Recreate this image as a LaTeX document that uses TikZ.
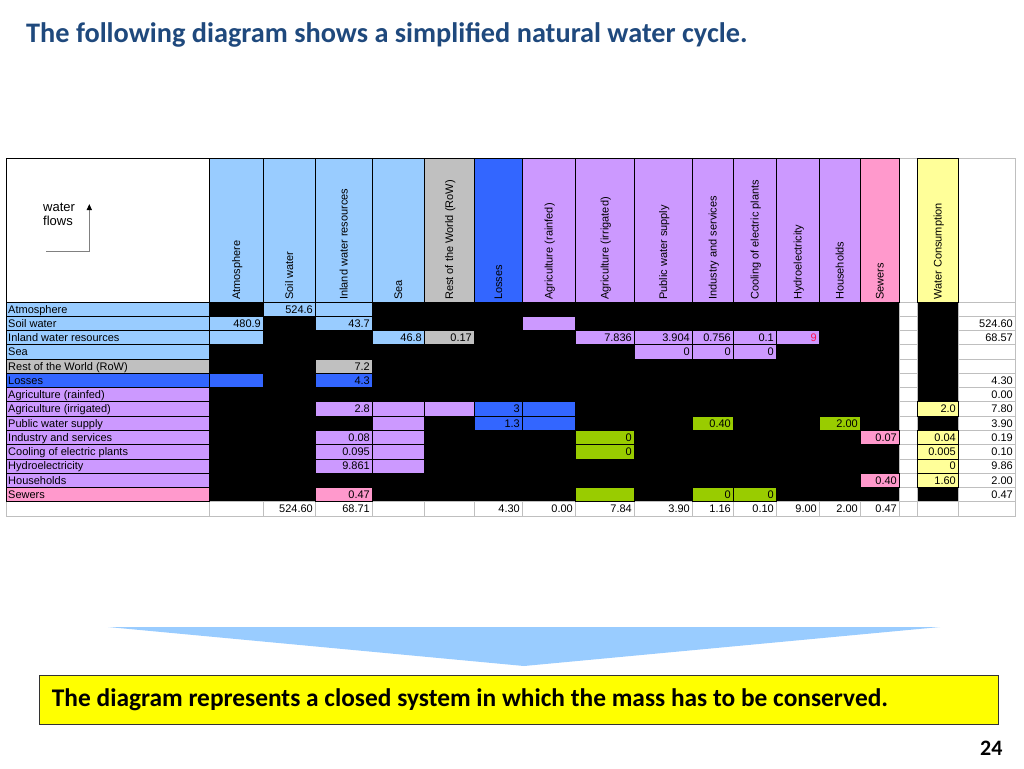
\documentclass[tikz,border=0pt]{standalone}
\usepackage{fontspec}
\setmainfont{Liberation Sans}
\newfontfamily\calibri{Carlito}
\usetikzlibrary{arrows.meta}
\definecolor{lb}{HTML}{99CCFF}
\definecolor{gr}{HTML}{C0C0C0}
\definecolor{bl}{HTML}{3366FF}
\definecolor{pu}{HTML}{CC99FF}
\definecolor{pk}{HTML}{FF99CC}
\definecolor{gn}{HTML}{99CC00}
\definecolor{ye}{HTML}{FFFF99}
\definecolor{gridgrey}{HTML}{BFBFBF}
\definecolor{titleblue}{HTML}{1F497D}
\definecolor{redtxt}{HTML}{FF1050}
\definecolor{arrowblue}{HTML}{99CCFF}
\definecolor{boxyellow}{HTML}{FFFF00}
\def\XS{{209,263,315,372,424,474,522,575,634,692,733,776,819,860,899,917,958,1015}}
\begin{document}
\begin{tikzpicture}[x=1pt,y=-1pt,
  num/.style={font=\fontsize{11}{12}\selectfont, inner sep=0pt, anchor=base east},
  lab/.style={font=\fontsize{11}{12}\selectfont, inner sep=0pt, anchor=base west},
  hd/.style={font=\fontsize{11}{12}\selectfont, inner sep=0pt, anchor=base west, rotate=90},
  cellb/.style={draw=black, line width=0.8pt},
  cellg/.style={draw=gridgrey, line width=0.8pt, fill=white},
  titlefont/.style={font=\calibri\bfseries\fontsize{28.3}{32}\selectfont, inner sep=0pt},
  notefont/.style={font=\calibri\bfseries\fontsize{25.4}{30}\selectfont, inner sep=0pt},
  pagefont/.style={font=\calibri\bfseries\fontsize{22}{26}\selectfont, inner sep=0pt},
]
\useasboundingbox (0,0) rectangle (1024,768);
\fill[white] (0,0) rectangle (1024,768);

% title
\node[titlefont, text=titleblue, anchor=base west] (title) at (26,42)
  {The following diagram shows a simplified natural water cycle.};

% black body
\fill[black] (209,302) rectangle (899,501.74);
\fill[black] (917,302) rectangle (958,501.74);

% white grid cells
\foreach \cc in {14,16} {
  \pgfmathsetmacro\xa{\XS[\cc]}
  \pgfmathsetmacro\xb{\XS[\cc+1]}
  \draw[cellg] (\xa,158) rectangle (\xb,302);
  \foreach \rr in {0,...,13} {
    \pgfmathsetmacro\ya{302+\rr*14.267}
    \draw[cellg] (\xa,\ya) rectangle (\xb,\ya+14.267);
  }
}
\draw[cellg] (6,501.74) rectangle (209,516);
\foreach \cc in {0,...,16} {
  \pgfmathsetmacro\xa{\XS[\cc]}
  \pgfmathsetmacro\xb{\XS[\cc+1]}
  \draw[cellg] (\xa,501.74) rectangle (\xb,516);
}

% coloured body cells
\foreach \rr/\cc/\f/\txt [count=\n] in {
  0/1/lb/524.6, 0/2/lb/{},
  1/0/lb/480.9, 1/2/lb/43.7, 1/6/pu/{},
  2/0/lb/{}, 2/3/lb/46.8, 2/4/gr/0.17, 2/7/pu/7.836, 2/8/pu/3.904, 2/9/pu/0.756, 2/10/pu/0.1, 2/11/pu/\textcolor{redtxt}{9},
  3/8/pu/0, 3/9/pu/0, 3/10/pu/0,
  4/2/gr/7.2,
  5/0/bl/{}, 5/2/bl/4.3,
  7/2/pu/2.8, 7/3/pu/{}, 7/4/pu/{}, 7/5/bl/3, 7/6/bl/{}, 7/15/ye/2.0,
  8/3/pu/{}, 8/5/bl/1.3, 8/6/bl/{}, 8/9/gn/0.40, 8/12/gn/2.00,
  9/2/pu/0.08, 9/3/pu/{}, 9/7/gn/0, 9/13/pk/0.07, 9/15/ye/0.04,
  10/2/pu/0.095, 10/3/pu/{}, 10/7/gn/0, 10/15/ye/0.005,
  11/2/pu/9.861, 11/3/pu/{}, 11/15/ye/0,
  12/13/pk/0.40, 12/15/ye/1.60,
  13/2/pk/0.47, 13/7/gn/{}, 13/9/gn/0, 13/10/gn/0} {
  \pgfmathsetmacro\xa{\XS[\cc]}
  \pgfmathsetmacro\xb{\XS[\cc+1]}
  \pgfmathsetmacro\ya{302+\rr*14.267}
  \draw[cellb, fill=\f] (\xa,\ya) rectangle (\xb,\ya+14.267);
  \node[num] (v\n) at (\xb-2,\ya+11) {\txt};
}

% right totals column
\foreach \rr/\txt [count=\n] in {1/524.60,2/68.57,5/4.30,6/0.00,7/7.80,8/3.90,9/0.19,10/0.10,11/9.86,12/2.00,13/0.47} {
  \pgfmathsetmacro\ya{302+\rr*14.267}
  \node[num] (rt\n) at (1013,\ya+11) {\txt};
}
% bottom totals row
\foreach \cc/\txt [count=\n] in {1/524.60,2/68.71,5/4.30,6/0.00,7/7.84,8/3.90,9/1.16,10/0.10,11/9.00,12/2.00,13/0.47} {
  \pgfmathsetmacro\xb{\XS[\cc+1]}
  \node[num] (bt\n) at (\xb-2,512.74) {\txt};
}

% row labels
\foreach \rr/\f/\txt [count=\n] in {0/lb/Atmosphere, 1/lb/Soil water, 2/lb/Inland water resources, 3/lb/Sea,
  4/gr/Rest of the World (RoW), 5/bl/Losses, 6/pu/Agriculture (rainfed), 7/pu/Agriculture (irrigated),
  8/pu/Public water supply, 9/pu/Industry and services, 10/pu/Cooling of electric plants,
  11/pu/Hydroelectricity, 12/pu/Households, 13/pk/Sewers} {
  \pgfmathsetmacro\ya{302+\rr*14.267}
  \draw[cellb, fill=\f] (6,\ya) rectangle (209,\ya+14.267);
  \node[lab] (row\n) at (8,\ya+11) {\txt};
}

% column headers
\foreach \cc/\f/\txt [count=\n] in {0/lb/Atmosphere, 1/lb/Soil water, 2/lb/Inland water resources, 3/lb/Sea,
  4/gr/Rest of the World (RoW), 5/bl/Losses, 6/pu/Agriculture (rainfed), 7/pu/Agriculture (irrigated),
  8/pu/Public water supply, 9/pu/Industry and services, 10/pu/Cooling of electric plants,
  11/pu/Hydroelectricity, 12/pu/Households, 13/pk/Sewers, 15/ye/Water Consumption} {
  \pgfmathsetmacro\xa{\XS[\cc]}
  \pgfmathsetmacro\xb{\XS[\cc+1]}
  \draw[cellb, fill=\f] (\xa,158) rectangle (\xb,302);
  \node[hd] (col\n) at ({(\xa+\xb)/2+4},300) {\txt};
}

% corner cell
\draw[cellb, fill=white] (6,158) rectangle (209,302);
\node[font=\fontsize{13}{13.5}\selectfont, inner sep=0pt, anchor=base west] (wf1) at (43,211.7) {water};
\node[font=\fontsize{13}{13.5}\selectfont, inner sep=0pt, anchor=base west] (wf2) at (43,225) {flows};
\coordinate (wa) at (46,251.7);
\coordinate (wb) at (89.3,251.7);
\coordinate (wc) at (89.3,204);
\draw[gray, line width=1.2pt, -{Triangle[length=6pt,width=5pt,color=black]}] (wa) -- (wb) -- (wc);

% big arrow
\coordinate (al) at (108,627);
\coordinate (ar) at (940,627);
\coordinate (at) at (524,666);
\fill[arrowblue] (al) -- (ar) -- (at) -- cycle;

% note box
\draw[fill=boxyellow, draw=black!80, line width=1pt] (39.5,675.5) rectangle (998,724.5);
\node[notefont, anchor=base west] (note) at (51.7,706)
  {The diagram represents a closed system in which the mass has to be conserved.};

\node[pagefont, anchor=base east] (pg) at (1002.7,755.3) {24};
\end{tikzpicture}
\end{document}
